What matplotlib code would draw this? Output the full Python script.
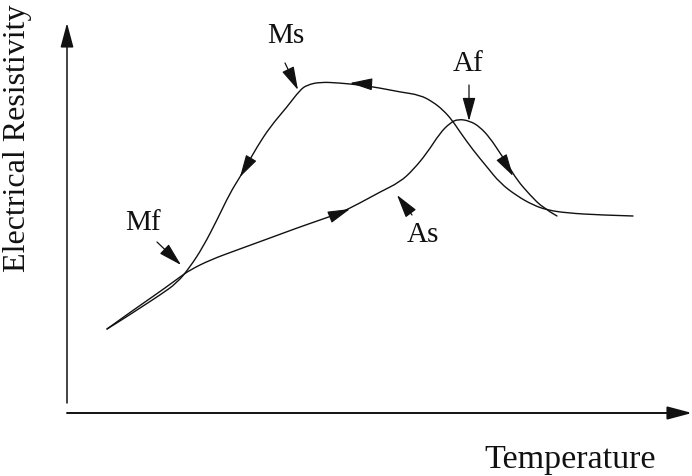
import matplotlib
matplotlib.use('Agg')
import matplotlib.pyplot as plt
from matplotlib.path import Path
from matplotlib.patches import PathPatch
import numpy as np

# schematic resistivity-temperature loop of a shape memory alloy (arbitrary units)
heat_T = [40, 58, 78, 98, 113, 123, 143, 170, 203, 230, 253, 273, 293, 313, 333,
          346, 360, 373, 383, 391, 403, 413, 423, 433, 441, 450, 463, 476, 490]
heat_R = [84, 97, 111, 125, 136, 143, 153, 163, 175, 185, 193, 200, 210, 221, 231,
          243, 260, 280, 290, 294, 292, 286, 275, 260, 248, 233, 218, 205, 197]

cool_T = [566, 533, 500, 480, 466, 450, 433, 420, 406, 393, 385, 376, 366, 353, 333,
          313, 293, 273, 253, 240, 233, 220, 203, 190, 181, 173, 163, 150, 136, 123,
          110, 93, 73, 53, 40]
cool_R = [197, 198, 200, 203, 208, 217, 230, 246, 263, 281, 293, 303, 311, 318, 321,
          325, 328, 330, 331, 328, 323, 306, 286, 266, 250, 236, 220, 193, 166, 146,
          130, 118, 105, 92, 84]

# direction arrows sitting on the curves: (tail, tip)
flow_arrows = [((300, 329), (283, 330)),   # cooling, plateau
               ((183, 253), (173, 236)),   # cooling, martensite branch
               ((268, 198), (283, 204)),   # heating, lower branch
               ((435, 255), (446, 237))]   # heating, past the peak

# transformation temperature markers: label, label position, arrow tail, arrow tip
marks = ['Ms', 'Mf', 'As', 'Af']
mark_xy = [(219, 377), (76, 190), (356, 178), (401, 349)]
mark_tail = [(218, 350), (90, 171), (345, 198), (402, 328)]
mark_tip = [(231, 323), (114, 148), (330, 218), (402, 292)]

SERIF = ['Liberation Serif', 'DejaVu Serif']
INK = '#111111'


def smooth_path(xs, ys):
    """Quadratic Bezier path using the points as control points."""
    p = np.column_stack([xs, ys]).astype(float)
    verts, codes = [p[0]], [Path.MOVETO]
    for i in range(1, len(p) - 1):
        verts += [p[i], (p[i] + p[i + 1]) / 2 if i < len(p) - 2 else p[i + 1]]
        codes += [Path.CURVE3, Path.CURVE3]
    return Path(verts, codes)


fig = plt.figure(figsize=(6.92, 4.76), dpi=100)
ax = fig.add_axes([0, 0, 1, 1])
ax.set_xlim(-67, 625)
ax.set_ylim(-63, 413)
ax.axis('off')

for xs, ys in [(heat_T, heat_R), (cool_T, cool_R)]:
    ax.add_patch(PathPatch(smooth_path(xs, ys), fill=False, edgecolor=INK,
                           lw=1.0, capstyle='round', joinstyle='round'))

for tail, tip in flow_arrows:
    ax.annotate('', xy=tip, xytext=tail,
                arrowprops=dict(arrowstyle='-|>,head_length=1.4,head_width=0.38',
                                mutation_scale=10, color=INK, lw=0.8,
                                shrinkA=0, shrinkB=0))

for name, pos, tail, tip in zip(marks, mark_xy, mark_tail, mark_tip):
    ax.text(pos[0], pos[1], name, family=SERIF, fontsize=21,
            ha='center', va='center', color=INK)
    ax.annotate('', xy=tip, xytext=tail,
                arrowprops=dict(arrowstyle='-|>,head_length=1.45,head_width=0.4',
                                mutation_scale=10, color=INK, lw=0.9,
                                shrinkA=0, shrinkB=0))

# axes drawn as arrows
axis_head = '-|>,head_length=1.5,head_width=0.4'
ax.annotate('', xy=(0, 390), xytext=(0, 10),
            arrowprops=dict(arrowstyle=axis_head, mutation_scale=10, color=INK,
                            lw=1.1, shrinkA=0, shrinkB=0))
ax.annotate('', xy=(625, 0), xytext=(0, 0),
            arrowprops=dict(arrowstyle=axis_head, mutation_scale=10, color=INK,
                            lw=1.4, shrinkA=0, shrinkB=0))

ax.text(503, -47, 'Temperature', family=SERIF, fontsize=24.5,
        ha='center', va='center', color=INK)
ax.text(-49, 275, 'Electrical Resistivity', family=SERIF, fontsize=23,
        rotation=90, ha='center', va='center', color=INK)

fig.savefig('out.png', dpi=100, facecolor='white')
